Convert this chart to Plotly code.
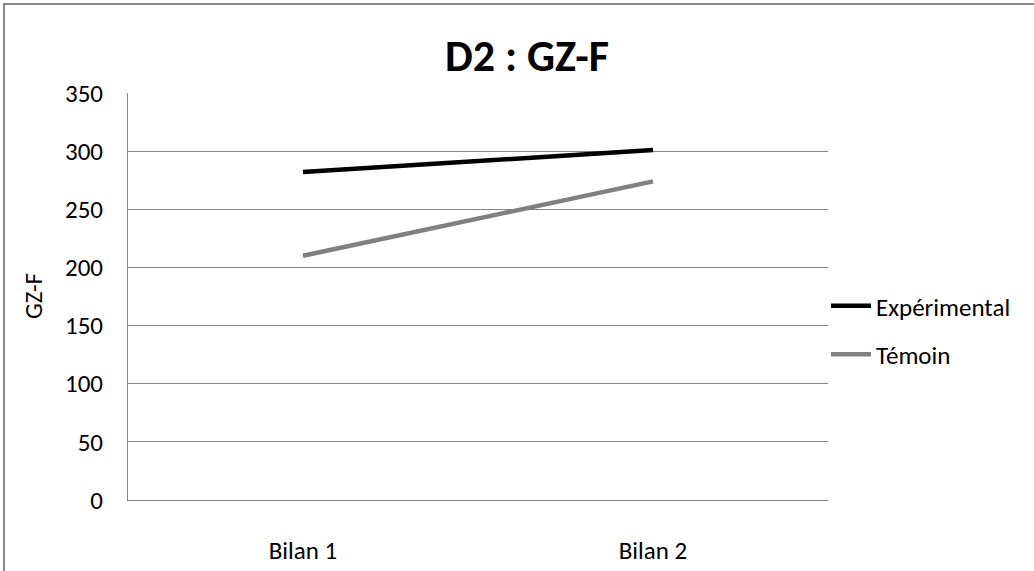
import plotly.graph_objects as go

categories = ["Bilan 1", "Bilan 2"]
experimental = [282, 301]
temoin = [210, 274]
series_names = ["Expérimental", "Témoin"]
title_text = "D2 : GZ-F"
y_title = "GZ-F"
y_ticks = [0, 50, 100, 150, 200, 250, 300, 350]

FONT = "Carlito, Calibri, Lato, 'Open Sans', sans-serif"
GRID = "#868686"
FS = 25

W, H = 1034, 571
L, R, T, B = 128, 206, 93, 71
pw, ph = W - L - R, H - T - B

def px_x(p):
    return (p - L) / pw

def px_y(p):
    return (H - B - p) / ph

fig = go.Figure()
fig.add_trace(go.Scatter(x=categories, y=experimental, name=series_names[0],
                         mode="lines", line=dict(color="#000000", width=4.5),
                         legendgroup="a"))
fig.add_trace(go.Scatter(x=categories, y=temoin, name=series_names[1],
                         mode="lines", line=dict(color="#808080", width=4.5),
                         legendgroup="b"))

fig.update_layout(
    width=W, height=H,
    margin=dict(l=L, r=R, t=T, b=B, autoexpand=False),
    paper_bgcolor="white", plot_bgcolor="white",
    font=dict(family=FONT, size=FS, color="#000000"),
    title=dict(text="<b>" + title_text + "</b>", x=527 / W, xanchor="center",
               y=1 - 56 / H, yanchor="middle", yref="container", xref="container",
               font=dict(family=FONT, size=44, color="#000000")),
    showlegend=True,
    legend=dict(x=px_x(826), xanchor="left", y=px_y(283), yanchor="top",
                traceorder="grouped", tracegroupgap=13, itemwidth=40,
                font=dict(family=FONT, size=FS, color="#000000"),
                bgcolor="rgba(0,0,0,0)", borderwidth=0),
    xaxis=dict(type="category", showgrid=False, showline=True, linecolor=GRID,
               linewidth=1, ticks="", ticklabelstandoff=28,
               tickfont=dict(family=FONT, size=FS, color="#000000"),
               range=[-0.5, 1.5], fixedrange=True),
    yaxis=dict(range=[0, 350], tickvals=y_ticks, showgrid=True, gridcolor=GRID,
               gridwidth=1, showline=True, linecolor=GRID, linewidth=1,
               zeroline=False, ticks="", ticklabelstandoff=19,
               tickfont=dict(family=FONT, size=FS, color="#000000")),
    annotations=[dict(text=y_title, textangle=-90, x=px_x(33), y=px_y(296),
                      xref="paper", yref="paper", showarrow=False,
                      xanchor="center", yanchor="middle",
                      font=dict(family=FONT, size=FS, color="#000000"))],
    shapes=[dict(type="rect", xref="paper", yref="paper",
                 x0=px_x(4), x1=px_x(1045), y0=px_y(580), y1=px_y(4),
                 line=dict(color="#8a8a8a", width=2), fillcolor="rgba(0,0,0,0)",
                 layer="below")],
)

fig.write_html("out.html", config={"displayModeBar": False},
               post_script="document.body.style.margin='0';document.body.style.overflow='hidden';")
